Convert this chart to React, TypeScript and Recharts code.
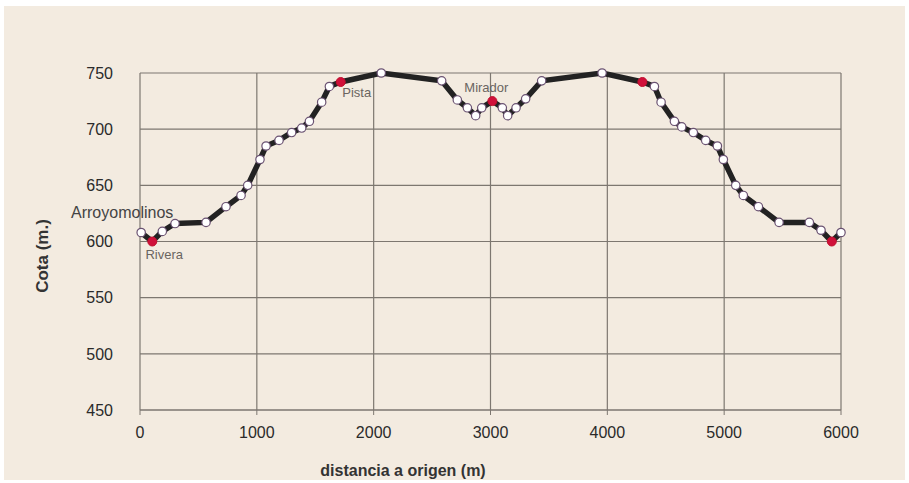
import { LineChart, Line, XAxis, YAxis, CartesianGrid, LabelList } from "recharts";

// distance from origin (m) and elevation (m) of each surveyed point
const distances = [
  10, 105, 191, 300, 565, 736, 865, 922, 1027, 1079, 1190, 1298, 1384, 1450, 1555, 1621,
  1718, 2065, 2582, 2716, 2802, 2873, 2925, 3016, 3101, 3147, 3219, 3301, 3438, 3955,
  4300, 4403, 4460, 4574, 4637, 4736, 4842, 4942, 4993, 5099, 5164, 5293, 5470, 5729,
  5829, 5921, 6000,
];
const elevations = [
  608, 600, 609, 616, 617, 631, 641, 650, 673, 685, 690, 697, 701, 707, 724, 738,
  742, 750, 743, 726, 719, 712, 719, 725, 719, 712, 719, 727, 743, 750,
  742, 738, 724, 707, 702, 697, 690, 685, 673, 650, 641, 631, 617, 617,
  610, 600, 608,
];

// points drawn in red
const redPoints = [1, 16, 23, 30, 45];

// named places and the point they belong to
const placeNames = ["Arroyomolinos", "Rivera", "Pista", "Mirador"];
const placeIndex = [0, 1, 16, 23];

const xTicks = [0, 1000, 2000, 3000, 4000, 5000, 6000];
const yTicks = [450, 500, 550, 600, 650, 700, 750];

const data = distances.map((d, i) => ({
  dist: d,
  cota: elevations[i],
  name: placeIndex.includes(i) ? placeNames[placeIndex.indexOf(i)] : "",
}));

const FONT = "'Liberation Sans', Arial, sans-serif";

const labelStyle: Record<string, { dx: number; dy: number; size: number; color: string }> = {
  Arroyomolinos: { dx: -19, dy: -20, size: 16, color: "#444" },
  Rivera: { dx: 12, dy: 13, size: 13, color: "#6a6560" },
  Pista: { dx: 16, dy: 11, size: 13, color: "#6a6560" },
  Mirador: { dx: -6, dy: -14, size: 13, color: "#6a6560" },
};

const renderDot = (props: any) => {
  const { cx, cy, index } = props;
  if (redPoints.includes(index)) {
    return <circle key={`d${index}`} cx={cx} cy={cy} r={4.5} fill="#d0103a" stroke="#c0102f" strokeWidth={1} />;
  }
  return <circle key={`d${index}`} cx={cx} cy={cy} r={4.2} fill="#ffffff" stroke="#6a5272" strokeWidth={1.2} />;
};

const renderPlace = (props: any) => {
  const { x, y, value } = props;
  if (!value) return null;
  const s = labelStyle[value];
  return (
    <text
      x={x + s.dx}
      y={y + s.dy}
      textAnchor="middle"
      dominantBaseline="central"
      fontSize={s.size}
      fill={s.color}
      fontFamily={FONT}
    >
      {value}
    </text>
  );
};

export default function App() {
  return (
    <div style={{ position: "absolute", left: 0, top: 0, width: 909, height: 483, background: "#ffffff" }}>
      <div style={{ position: "absolute", left: 4, top: 6, width: 901, height: 474, background: "#f3ebe0" }} />
      <div style={{ position: "absolute", left: 0, top: 0 }}>
        <LineChart
          width={909}
          height={483}
          data={data}
          margin={{ top: 73, right: 68, bottom: 0, left: 80 }}
          style={{ fontFamily: FONT }}
        >
          <CartesianGrid stroke="#7d7770" strokeWidth={1.2} />
          <XAxis
            dataKey="dist"
            type="number"
            domain={[0, 6000]}
            ticks={xTicks}
            height={73}
            tickSize={5}
            tickMargin={12}
            stroke="#7d7770"
            tick={{ fill: "#2a2a2a", fontSize: 16 }}
            label={{
              content: () => (
                <text x={403} y={470} textAnchor="middle" dominantBaseline="central" fontSize={16} fontWeight="bold" fill="#333" fontFamily={FONT}>
                  distancia a origen (m)
                </text>
              ),
            }}
          />
          <YAxis
            type="number"
            domain={[450, 750]}
            ticks={yTicks}
            width={60}
            axisLine={false}
            tickLine={false}
            tickSize={0}
            tickMargin={27}
            tick={{ fill: "#2a2a2a", fontSize: 16 }}
            label={{
              content: () => (
                <text
                  x={42}
                  y={256}
                  textAnchor="middle"
                  dominantBaseline="central"
                  fontSize={17}
                  fontWeight="bold"
                  fill="#333"
                  fontFamily={FONT}
                  transform="rotate(-90 42 256)"
                >
                  Cota (m.)
                </text>
              ),
            }}
          />
          <Line
            dataKey="cota"
            type="linear"
            stroke="#222"
            strokeWidth={5.5}
            dot={renderDot}
            activeDot={false}
            isAnimationActive={false}
          >
            <LabelList dataKey="name" content={renderPlace} />
          </Line>
        </LineChart>
      </div>
    </div>
  );
}
